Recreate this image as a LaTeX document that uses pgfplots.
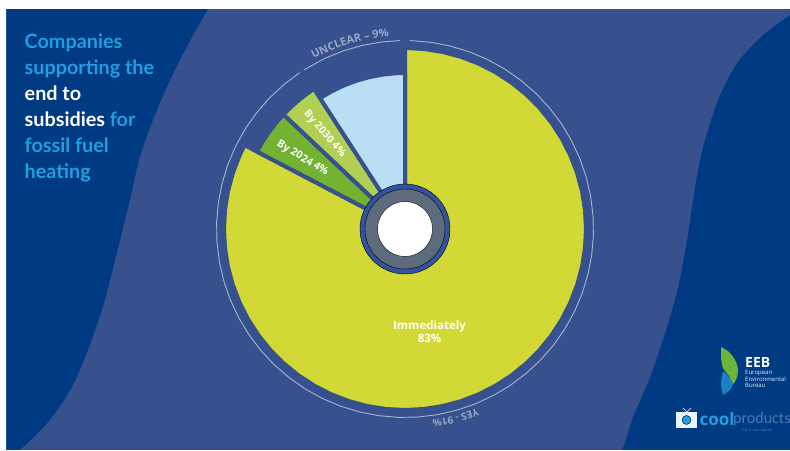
\documentclass[border=0pt]{standalone}
\usepackage{fontspec}
\setmainfont{Open Sans}
\newfontfamily\titlefont{Lato}
\newfontfamily\prodfont{Carlito}
\usepackage{pgfplots}
\pgfplotsset{compat=1.18}
\usetikzlibrary{decorations.text}

\definecolor{navy}{HTML}{003A82}
\definecolor{band}{HTML}{36518E}
\definecolor{cyantext}{HTML}{1F9FE0}
\definecolor{sliceyellow}{HTML}{D2D835}
\definecolor{slicegreen}{HTML}{74B231}
\definecolor{slicelime}{HTML}{B1CF52}
\definecolor{sliceblue}{HTML}{B8DFF3}
\definecolor{hubring}{HTML}{32539F}
\definecolor{hubgray}{HTML}{5E6B7D}
\definecolor{arcline}{HTML}{A9B5D0}
\definecolor{arctext}{HTML}{9AA6C4}
\definecolor{logoblue}{HTML}{1B7FC4}
\definecolor{logogreen}{HTML}{6DB43A}
\definecolor{prodtext}{HTML}{4A78B6}

% pixel positions of the reference, centre of the pie at (405,229)
\pgfplotsset{
  table/px/.style={x expr=\thisrow{x}-405, y expr=229-\thisrow{y}},
  slice/.style={data cs=polar, fill=#1, draw=band, line width=4pt, line join=miter},
  ring/.style={data cs=polar, draw=arcline, line width=0.9pt, fill=none},
}

\begin{document}
\begin{tikzpicture}
\begin{axis}[
  width=790pt, height=450pt, scale only axis,
  xmin=-405, xmax=385, ymin=-221, ymax=229,
  hide axis,
  every axis plot/.append style={no markers},
]
% background, the band runs past the picture so that its corners are clipped
\addplot[fill=navy, draw=none] table[px] {
x y
0 0
790 0
790 450
0 450
} --cycle;
\addplot[fill=band, draw=none, smooth, tension=0.5] table[px] {
x y
250 -60
225 -20
208 9
180 60
157 110
140 157
130 200
117 253
103 307
88 350
72 387
50 420
20 450
-20 480
-60 520
300 560
590 520
622 450
633 417
650 377
667 327
678 287
687 240
695 187
703 147
718 100
737 63
763 35
790 15
830 -10
870 -50
500 -90
} --cycle;
% white margin at the top and on the left
\addplot[fill=white, draw=none] table[px] {
x y
0 0
790 0
790 9
6 9
6 450
0 450
} --cycle;

% slices, (angle, radius); the outline in the band colour makes the gaps
\addplot[slice=sliceyellow] coordinates {
(0,0) (90,181) (84,181) (78,181) (72,181) (66,181) (60,181) (54,181) (48,181) (42,181)
(36,181) (30,181) (24,181) (18,181) (12,181) (6,181) (0,181) (-6,181) (-12,181) (-18,181)
(-24,181) (-30,181) (-36,181) (-42,181) (-48,181) (-54,181) (-60,181) (-66,181) (-72,181)
(-78,181) (-84,181) (-90,181) (-96,181) (-102,181) (-108,181) (-114,181) (-120,181)
(-126,181) (-132,181) (-138,181) (-144,181) (-150,181) (-156,181) (-162,181) (-168,181)
(-174,181) (-180,181) (-186,181) (-192,181) (-198,181) (-204,181) (-207.6,181)
} --cycle;
\addplot[slice=slicegreen] coordinates {
(0,0) (152.4,167) (148,167) (144,167) (140,167) (136.7,167)
} --cycle;
\addplot[slice=slicelime] coordinates {
(0,0) (136.7,167) (133,167) (129,167) (125,167) (123,167)
} --cycle;
\addplot[slice=sliceblue] coordinates {
(0,0) (123,156) (118,156) (113,156) (108,156) (103,156) (98,156) (94,156) (90,156)
} --cycle;

% thin ring around the pie
\addplot[ring] coordinates {
(91.5,188.5) (97,188.5) (103,188.5) (109,188.5) (115,188.5) (122.5,188.5)
};
\addplot[ring] coordinates {
(124,188.5) (130,188.5) (136,188.5) (142,188.5) (148,188.5) (154,188.5) (160,188.5)
(166,188.5) (172,188.5) (178,188.5) (184,188.5) (190,188.5) (196,188.5) (202,188.5)
(208,188.5) (214,188.5) (220,188.5) (226,188.5) (232,188.5) (238,188.5) (244,188.5)
(250,188.5) (256,188.5) (262,188.5) (268,188.5) (274,188.5) (280,188.5) (286,188.5)
(292,188.5) (298,188.5) (304,188.5) (310,188.5) (316,188.5) (322,188.5) (328,188.5)
(334,188.5) (340,188.5) (346,188.5) (352,188.5) (358,188.5) (364,188.5) (370,188.5)
(376,188.5) (382,188.5) (388,188.5) (394,188.5) (400,188.5) (406,188.5) (412,188.5)
(418,188.5) (424,188.5) (430,188.5) (436,188.5) (442,188.5) (448.5,188.5)
};

% hub
\addplot[only marks, mark=*, mark size=45pt, mark options={fill=hubring, draw=none}] coordinates {(0,0)};
\addplot[only marks, mark=*, mark size=40pt, mark options={fill=hubgray, draw=none}] coordinates {(0,0)};
\addplot[only marks, mark=*, mark size=27.5pt, mark options={fill=white, draw=none}] coordinates {(0,0)};

% EEB leaf
\addplot[fill=logogreen, draw=none, smooth] table[px] {
x y
721 347
729 352
735 360
738 369
737 377
733 384
729 376
723 368
721 358
} --cycle;
\addplot[fill=logoblue, draw=none, smooth] table[px] {
x y
723 395
721 385
723 372
728 376
733 384
729 391
} --cycle;
% coolproducts tv
\addplot[draw=white, line width=0.6pt] table[px] {
x y
683 408
687 412
691 408
};
\addplot[fill=white!90!cyantext, draw=none] table[px] {
x y
676 412
697 412
697 428
676 428
} --cycle;
\addplot[only marks, mark=*, mark size=4.5pt, mark options={fill=cyantext, draw=none}]
  table[px] {
x y
686.5 420
};

% texts
\node[anchor=north west, align=left, inner sep=0pt,
  font=\titlefont\bfseries\fontsize{19.8}{26}\selectfont] at (axis cs:-380.5,195)
  {\textcolor{cyantext}{Companies}\\
   \textcolor{cyantext}{supporting the}\\
   \textcolor{white}{end to}\\
   \textcolor{white}{subsidies} \textcolor{cyantext}{for}\\
   \textcolor{cyantext}{fossil fuel}\\
   \textcolor{cyantext}{heating}};

\node[text=white, font=\bfseries\fontsize{10.5}{10.5}\selectfont, rotate=-49]
  at (axis cs:-80.5,95) {By 2030 4\%};
\node[text=white, font=\bfseries\fontsize{10.5}{10.5}\selectfont, rotate=-31]
  at (axis cs:-102.5,70.5) {By 2024 4\%};
\node[text=white, font=\bfseries\fontsize{11.5}{13}\selectfont, align=center]
  at (axis cs:24.5,-103) {Immediately\\83\%};

\path[decorate, decoration={text along path, text align=center,
    text={|\bfseries\fontsize{11}{11}\selectfont\color{arctext}|UNCLEAR – 9{\%}}}]
  (axis cs:-147.85,124.06) arc[start angle=140, end angle=73, radius=193pt];
\path[decorate, decoration={text along path, text align=center,
    text={|\bfseries\fontsize{10}{10}\selectfont\color{arctext}|YES - 91{\%}}}]
  (axis cs:147.85,-124.06) arc[start angle=320, end angle=250, radius=193pt];

% logos
\node[anchor=west, text=white, inner sep=0pt, font=\bfseries\fontsize{14}{14}\selectfont]
  at (axis cs:340,-133.5) {EEB};
\node[anchor=north west, text=white!85!cyantext, inner sep=0pt, align=left,
  font=\fontsize{6}{6.6}\selectfont] at (axis cs:340,-141)
  {European\\Environmental\\Bureau};
\node[anchor=west, inner sep=0pt, text=cyantext, font=\bfseries\fontsize{17}{17}\selectfont]
  at (axis cs:294.5,-190) {cool};
\node[anchor=west, inner sep=0pt, text=prodtext, font=\prodfont\fontsize{16}{16}\selectfont]
  at (axis cs:328,-190) {products};
\node[anchor=west, inner sep=0pt, text=prodtext, font=\fontsize{4}{4}\selectfont]
  at (axis cs:337,-201) {for a cool planet};
\end{axis}
\end{tikzpicture}
\end{document}
